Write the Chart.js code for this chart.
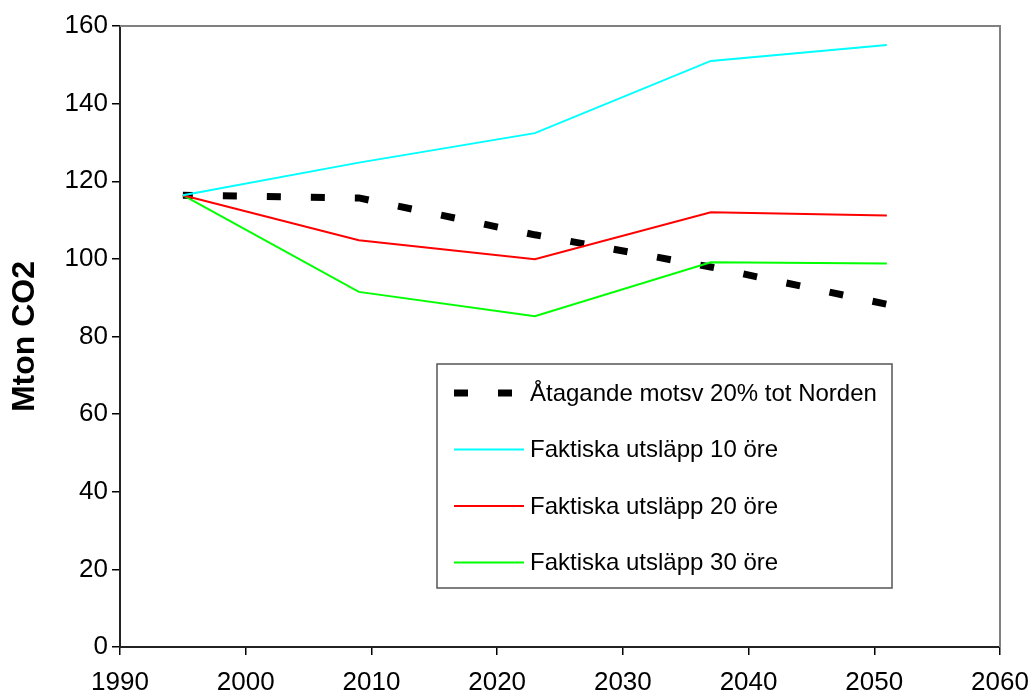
<!DOCTYPE html>
<html>
<head>
<meta charset="utf-8">
<script src="https://cdn.jsdelivr.net/npm/chart.js@4/dist/chart.umd.min.js"></script>
<style>
  html, body { margin: 0; padding: 0; background: #fff; }
  #wrap { width: 1032px; height: 698px; position: relative; }
</style>
</head>
<body>
<div id="wrap"><canvas id="chart"></canvas></div>
<script>
// ── Data ──────────────────────────────────────
const YEARS      = [1995, 2009, 2023, 2037, 2051];
const TARGET     = [116.4, 115.7, 106.2, 97.9, 88.3];
const UTSL_10    = [116.4, 124.8, 132.4, 151.0, 155.1];
const UTSL_20    = [116.4, 104.8, 99.9, 112.0, 111.2];
const UTSL_30    = [116.4, 91.5, 85.2, 99.1, 98.8];
const LABELS     = [
  'Åtagande motsv 20% tot Norden',
  'Faktiska utsläpp 10 öre',
  'Faktiska utsläpp 20 öre',
  'Faktiska utsläpp 30 öre',
];
const X_MIN = 1990, X_MAX = 2060, X_STEP = 10;
const Y_MIN = 0,    Y_MAX = 160,  Y_STEP = 20;

const FONT = 'Liberation Sans, Arial, sans-serif';
const pts = arr => arr.map((v, i) => ({ x: YEARS[i], y: v }));

// ── Plot frame: grey top + right edges ─────────
const framePlugin = {
  id: 'frame',
  beforeDatasetsDraw(chart) {
    const { ctx, chartArea: a } = chart;
    ctx.save();
    ctx.strokeStyle = '#808080';
    ctx.lineWidth = 2;
    ctx.beginPath();
    ctx.moveTo(a.left, a.top);
    ctx.lineTo(a.right, a.top);
    ctx.lineTo(a.right, a.bottom);
    ctx.stroke();
    ctx.restore();
  },
};

// ── Boxed legend inside the plot ───────────────
const legendBox = {
  id: 'legendBox',
  afterDraw(chart) {
    const { ctx, chartArea: a } = chart;
    const bx = a.left + 317, by = a.top + 338, bw = 455, bh = 224;
    ctx.save();
    ctx.fillStyle = '#fff';
    ctx.fillRect(bx, by, bw, bh);
    ctx.strokeStyle = '#555';
    ctx.lineWidth = 1.5;
    ctx.strokeRect(bx, by, bw, bh);
    ctx.font = '24px ' + FONT;
    ctx.textBaseline = 'middle';
    chart.data.datasets.forEach((ds, i) => {
      const y = by + 29 + i * 56.5;
      ctx.strokeStyle = ds.borderColor;
      ctx.lineWidth = ds.borderWidth;
      ctx.setLineDash(ds.borderDash || []);
      ctx.beginPath();
      ctx.moveTo(bx + 17, y);
      ctx.lineTo(bx + 87, y);
      ctx.stroke();
      ctx.setLineDash([]);
      ctx.fillStyle = '#000';
      ctx.fillText(ds.label, bx + 93, y + 1);
    });
    ctx.restore();
  },
};

new Chart(document.getElementById('chart'), {
  type: 'line',
  data: {
    datasets: [
      { label: LABELS[0], data: pts(TARGET),  borderColor: '#000000', borderWidth: 7, borderDash: [14, 30], borderDashOffset: 4, order: 1 },
      { label: LABELS[1], data: pts(UTSL_10), borderColor: '#00FFFF', borderWidth: 2, order: 0 },
      { label: LABELS[2], data: pts(UTSL_20), borderColor: '#FF0000', borderWidth: 2, order: 0 },
      { label: LABELS[3], data: pts(UTSL_30), borderColor: '#00FF00', borderWidth: 2, order: 0 },
    ],
  },
  options: {
    responsive: true,
    maintainAspectRatio: false,
    animation: false,
    layout: { padding: { top: 26, right: 32, bottom: 0, left: 0 } },
    elements: { point: { radius: 0 }, line: { tension: 0, borderCapStyle: 'butt' } },
    plugins: { legend: { display: false }, tooltip: { enabled: false } },
    scales: {
      x: {
        type: 'linear', min: X_MIN, max: X_MAX,
        afterFit: s => { s.height = 51; s.paddingLeft = 0; s.paddingRight = 0; },
        ticks: { stepSize: X_STEP, color: '#000', font: { family: FONT, size: 26 }, padding: 12, callback: v => String(v) },
        grid: { drawOnChartArea: false, drawTicks: true, tickLength: 8, color: '#000', lineWidth: 1.5 },
        border: { display: true, color: '#222', width: 2 },
      },
      y: {
        min: Y_MIN, max: Y_MAX,
        afterFit: s => { s.width = 120; s.paddingTop = 0; s.paddingBottom = 0; },
        ticks: { stepSize: Y_STEP, color: '#000', font: { family: FONT, size: 26 }, padding: 4 },
        grid: { drawOnChartArea: false, drawTicks: true, tickLength: 8, color: '#000', lineWidth: 1.5 },
        border: { display: true, color: '#222', width: 2 },
        title: { display: true, text: 'Mton CO2', color: '#000', font: { family: FONT, size: 32, weight: 'bold' }, padding: { top: 6, bottom: 0 } },
      },
    },
  },
  plugins: [framePlugin, legendBox],
});
</script>
</body>
</html>
